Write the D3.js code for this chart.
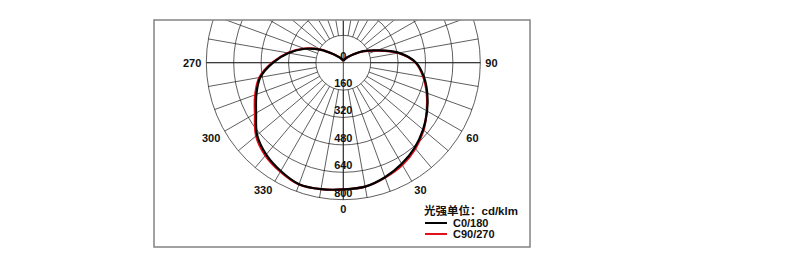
<!DOCTYPE html>
<html>
<head>
<meta charset="utf-8">
<script src="https://cdn.jsdelivr.net/npm/d3@7"></script>
<style>
  body { margin: 0; background: #fff; }
  text { font-family: "Liberation Sans", Arial, "Noto Sans CJK SC", sans-serif; font-weight: bold; }
</style>
</head>
<body>
<div id="chart"></div>
<script>
/**
 * DATA (cd/klm, gamma 0..180 step 10)
 * */
const gammas = [0, 10, 20, 30, 40, 50, 60, 70, 80, 90, 100, 110, 120, 130, 140, 150, 160, 170, 180];
const c0   = [740, 735, 712, 682, 648, 608, 565, 522, 478, 425, 330, 210, 135, 75, 45, 30, 20, 14, 12];
const c180 = [740, 750, 755, 730, 700, 657, 588, 540, 492, 410, 325, 238, 150, 78, 45, 30, 20, 14, 12];
const c90  = [740, 735, 714, 690, 655, 612, 562, 518, 474, 422, 326, 206, 132, 74, 44, 30, 20, 14, 12];
const c270 = [740, 750, 757, 735, 708, 665, 596, 548, 498, 415, 330, 242, 153, 80, 46, 30, 20, 14, 12];

const ringValues = [160, 320, 480, 640, 800];
const ringLabels = [0, 160, 320, 480, 640, 800];
const angleLabels = [270, 300, 330, 0, 30, 60, 90];
const legendTitle = "光强单位：cd/klm";
const seriesNames = ["C0/180", "C90/270"];
const seriesColors = ["#000000", "#e3101c"];

/**
 * CONSTANTS
 * */
const width = 790, height = 266;
const frame = { x: 154, y: 20, w: 376, h: 227 };
const cx = 343.3, cy = 62.7;
const rad = Math.PI / 180;

const rScale = d3.scaleLinear().domain([0, 800]).range([0, 137]);

const svg = d3.select("#chart")
  .append("svg")
  .attr("width", width)
  .attr("height", height);

svg.append("clipPath")
  .attr("id", "frameclip")
  .append("rect")
  .attr("x", frame.x)
  .attr("y", frame.y)
  .attr("width", frame.w)
  .attr("height", frame.h);

const plot = svg.append("g")
  .attr("clip-path", "url(#frameclip)")
  .append("g")
  .attr("transform", `translate(${cx},${cy})`);

// rings
plot.selectAll("circle.ring")
  .data(ringValues)
  .join("circle")
  .attr("class", "ring")
  .attr("r", d => rScale(d))
  .attr("fill", "none")
  .attr("stroke", "#1a1a1a")
  .attr("stroke-width", 0.7);

// radial spokes, every 10 deg between inner and outer ring
const spokes = d3.range(0, 360, 10);
const rIn = rScale(ringValues[0]), rOut = rScale(ringValues[ringValues.length - 1]);
plot.selectAll("line.spoke")
  .data(spokes)
  .join("line")
  .attr("class", "spoke")
  .attr("x1", d => rIn * Math.sin(d * rad))
  .attr("y1", d => rIn * Math.cos(d * rad))
  .attr("x2", d => rOut * Math.sin(d * rad))
  .attr("y2", d => rOut * Math.cos(d * rad))
  .attr("stroke", "#1a1a1a")
  .attr("stroke-width", 0.7);

// main axes through centre
plot.selectAll("line.axis")
  .data([0, 90])
  .join("line")
  .attr("class", "axis")
  .attr("x1", d => -rOut * Math.sin(d * rad))
  .attr("y1", d => -rOut * Math.cos(d * rad))
  .attr("x2", d => rOut * Math.sin(d * rad))
  .attr("y2", d => rOut * Math.cos(d * rad))
  .attr("stroke", "#1a1a1a")
  .attr("stroke-width", 0.8);

// ring value labels on the 0 axis
plot.selectAll("text.rlabel")
  .data(ringLabels)
  .join("text")
  .attr("class", "rlabel")
  .attr("x", 0)
  .attr("y", d => rScale(d) - 3)
  .attr("text-anchor", "middle")
  .attr("font-size", 11)
  .attr("fill", "#111")
  .text(d => d);

// angle labels outside outer ring
const rLab = rOut + 5;
plot.selectAll("text.alabel")
  .data(angleLabels)
  .join("text")
  .attr("class", "alabel")
  .attr("x", d => rLab * Math.sin(d * rad))
  .attr("y", d => rLab * Math.cos(d * rad) + (Math.abs(Math.cos(d * rad)) < 0.01 ? 4 : 8))
  .attr("text-anchor", d => {
    const s = Math.sin(d * rad);
    return s > 0.01 ? "start" : s < -0.01 ? "end" : "middle";
  })
  .attr("font-size", 11)
  .attr("fill", "#111")
  .text(d => d);

// curves
const lineFunc = d3.lineRadial()
  .angle(d => d.a)
  .radius(d => rScale(d.v))
  .curve(d3.curveCatmullRom.alpha(0.5));

function halfPlane(left, right) {
  const pts = [];
  for (let i = gammas.length - 1; i >= 0; i--) pts.push({ a: Math.PI + gammas[i] * rad, v: left[i] });
  for (let i = 1; i < gammas.length; i++) pts.push({ a: Math.PI - gammas[i] * rad, v: right[i] });
  return pts;
}

const curves = [
  { name: seriesNames[1], color: seriesColors[1], pts: halfPlane(c270, c90) },
  { name: seriesNames[0], color: seriesColors[0], pts: halfPlane(c180, c0) }
];

plot.selectAll("path.trend")
  .data(curves)
  .join("path")
  .attr("class", "trend")
  .attr("fill", "none")
  .attr("stroke", d => d.color)
  .attr("stroke-width", 2.2)
  .attr("d", d => lineFunc(d.pts));

// frame
svg.append("rect")
  .attr("x", frame.x)
  .attr("y", frame.y)
  .attr("width", frame.w)
  .attr("height", frame.h)
  .attr("fill", "none")
  .attr("stroke", "#8a8a8a")
  .attr("stroke-width", 1.6);

// legend
const legend = svg.append("g").attr("transform", "translate(424,215)");
legend.append("text")
  .attr("x", 0)
  .attr("y", 0)
  .attr("font-size", 11.5)
  .attr("fill", "#111")
  .text(legendTitle);

const item = legend.selectAll("g.item")
  .data(seriesNames)
  .join("g")
  .attr("class", "item")
  .attr("transform", (d, i) => `translate(0,${8 + i * 11})`);

item.append("line")
  .attr("x1", 1)
  .attr("x2", 23)
  .attr("stroke", (d, i) => seriesColors[i])
  .attr("stroke-width", 2);

item.append("text")
  .attr("x", 29)
  .attr("y", 3.5)
  .attr("font-size", 11)
  .attr("fill", "#111")
  .text(d => d);
</script>
</body>
</html>
